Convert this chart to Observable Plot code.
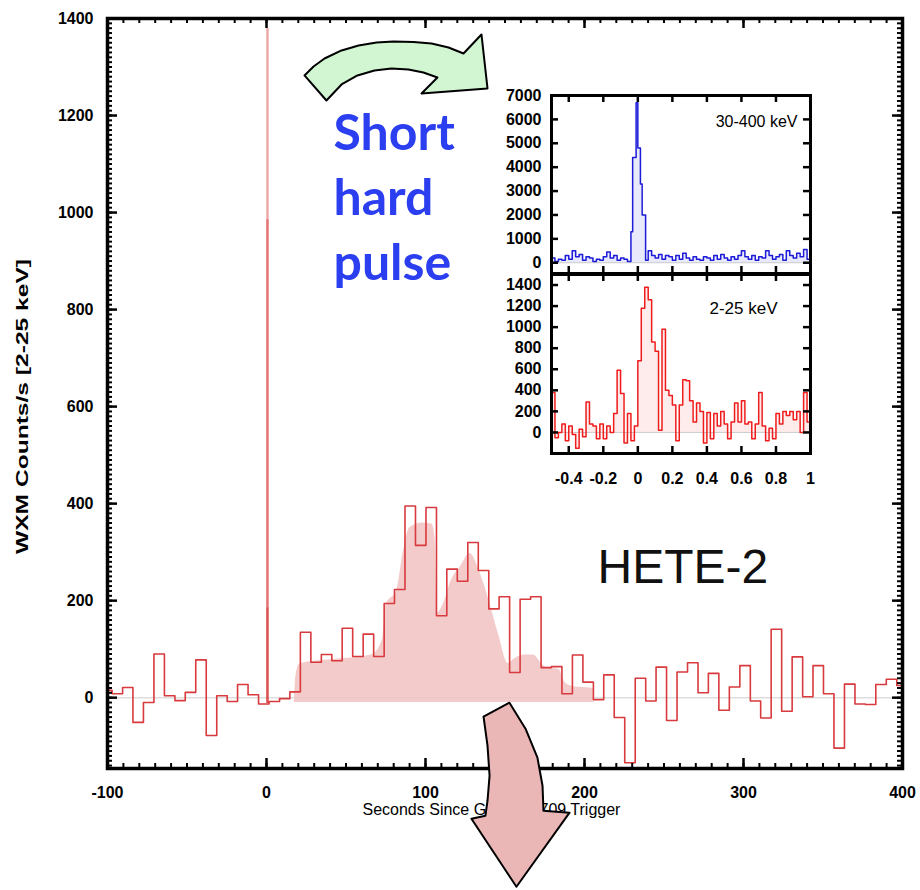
<!DOCTYPE html>
<html>
<head>
<meta charset="utf-8">
<script src="https://cdn.jsdelivr.net/npm/d3@7"></script>
<script src="https://cdn.jsdelivr.net/npm/@observablehq/plot@0.6"></script>
<style>
  body { margin: 0; background: #fff; }
  #wrap { position: relative; width: 920px; height: 890px; overflow: hidden; }
  #wrap svg { position: absolute; }
</style>
</head>
<body>
<div id="wrap"></div>
<script>
// ---------------- main light curve (WXM 2-25 keV), step histogram ----------------
const binStart = [-103.7, -97.1, -90.5, -84.0, -77.4, -70.8, -64.2, -57.6, -51.1, -44.5, -37.9, -31.3, -24.7, -18.2, -11.6, -5.0, 1.6, 8.2, 14.7, 21.3, 27.9, 34.5, 41.1, 47.6, 54.2, 60.8, 67.4, 74.0, 80.5, 87.1, 93.7, 100.3, 106.9, 113.4, 120.0, 126.6, 133.2, 139.8, 146.3, 152.9, 159.5, 166.1, 172.7, 179.2, 185.8, 192.4, 199.0, 205.6, 212.1, 218.7, 225.3, 231.9, 238.5, 245.0, 251.6, 258.2, 264.8, 271.4, 277.9, 284.5, 291.1, 297.7, 304.3, 310.8, 317.4, 324.0, 330.6, 337.2, 343.7, 350.3, 356.9, 363.5, 370.1, 376.6, 383.2, 389.8, 396.4];
const binEnd = 403.0;
const counts = [15, 8, 21, -51, -10, 90, 4, -6, 11, 78, -78, 4, -8, 27, 6, -13, -8, -2, 12, 135, 73, 89, 76, 143, 85, 131, 85, 194, 223, 395, 314, 392, 169, 265, 240, 320, 262, 183, 208, 52, 203, 208, 62, 64, 8, 88, 32, -4, 47, -41, -134, 40, -7, 63, -47, 53, 72, 10, 50, -26, 22, 66, -7, -42, 141, -28, 84, 2, 66, 8, -104, 28, -13, -14, 27, 38, 25];

// short hard spike at trigger (overlaid finer-resolution curves)
const spikeTime = 0.6;
const spikeBase = -12;
const spikeTops = [1380, 985, 185];

// smooth shaded emission envelope
const fillT = [17.5, 18.5, 21, 40, 66, 73, 75, 82, 86, 90, 98, 104, 106, 107.5, 112, 116, 122, 128, 134, 140, 146, 152, 156, 162, 168, 173, 176, 184, 188, 194, 204, 205.5, 206];
const fillV = [-10, 45, 70, 78, 88, 120, 190, 222, 300, 350, 360, 358, 330, 175, 200, 240, 270, 297, 260, 200, 130, 70, 80, 88, 88, 70, 62, 58, 30, 22, 20, 18, -10];
const fillBase = -10;

// axes
const xDomain = [-100, 400], yDomain = [-146, 1400];
const xMajorTicks = [-100, 0, 100, 200, 300, 400];
const yMajorTicks = [0, 200, 400, 600, 800, 1000, 1200, 1400];
const xMinorStep = 10, yMinorStep = 10;
const xLabel = "Seconds Since GRB 050709 Trigger";
const yLabel = "WXM Counts/s [2-25 keV]";

// ---------------- inset: 30-400 keV (blue) ----------------
const blueT = [-0.52,-0.50,-0.48,-0.46,-0.44,-0.42,-0.40,-0.38,-0.36,-0.34,-0.32,-0.30,-0.28,-0.26,-0.24,-0.22,-0.20,-0.18,-0.16,-0.14,-0.12,-0.10,-0.08,-0.06,-0.04,-0.03,-0.01,0.00,0.015,0.025,0.045,0.06,0.08,0.10,0.12,0.14,0.16,0.18,0.20,0.22,0.24,0.26,0.28,0.30,0.32,0.34,0.36,0.38,0.40,0.42,0.44,0.46,0.48,0.50,0.52,0.54,0.56,0.58,0.60,0.62,0.64,0.66,0.68,0.70,0.72,0.74,0.76,0.78,0.80,0.82,0.84,0.86,0.88,0.90,0.92,0.94,0.96,0.98];
const blueV = [100,200,50,150,100,300,150,500,250,350,100,250,200,50,150,100,250,450,200,300,100,200,150,50,1300,4400,6700,4800,3300,2000,100,500,300,200,350,150,300,250,100,300,150,400,200,100,250,150,100,250,200,100,300,150,350,200,100,250,150,300,500,250,150,300,100,250,200,500,300,150,250,350,100,500,300,200,400,250,550,150];
// ---------------- inset: 2-25 keV (red) ----------------
const redT = [-0.52,-0.50,-0.48,-0.46,-0.44,-0.42,-0.40,-0.38,-0.36,-0.34,-0.32,-0.30,-0.28,-0.26,-0.24,-0.22,-0.20,-0.18,-0.16,-0.14,-0.12,-0.10,-0.08,-0.06,-0.04,-0.02,0.00,0.02,0.04,0.06,0.08,0.10,0.12,0.14,0.16,0.18,0.20,0.22,0.24,0.26,0.28,0.30,0.32,0.34,0.36,0.38,0.40,0.42,0.44,0.46,0.48,0.50,0.52,0.54,0.56,0.58,0.60,0.62,0.64,0.66,0.68,0.70,0.72,0.74,0.76,0.78,0.80,0.82,0.84,0.86,0.88,0.90,0.92,0.94,0.96,0.98];
const redV = [100,380,-50,0,80,-80,60,-20,-150,30,-40,290,80,60,-60,80,-60,60,0,180,590,370,-100,180,-80,60,680,1180,1380,1260,860,770,20,980,400,350,260,-80,260,500,490,300,100,280,200,-100,190,-60,180,60,200,80,-60,100,280,100,300,80,100,-60,80,380,60,-80,40,-60,180,80,200,160,200,120,200,0,380,100];
const insetEnd = 1.0;
const insetXDomain = [-0.5, 1], topYDomain = [-450, 7000], botYDomain = [-200, 1500];
const insetXTicks = [-0.4, -0.2, 0, 0.2, 0.4, 0.6, 0.8, 1];
const topYTicks = [0, 1000, 2000, 3000, 4000, 5000, 6000, 7000];
const botYTicks = [0, 200, 400, 600, 800, 1000, 1200, 1400];
const topLabel = "30-400 keV";
const botLabel = "2-25 keV";

// ---------------- annotations ----------------
const noteText = "Short\nhard\npulse";
const missionText = "HETE-2";
// arrow outlines in data units (seconds, counts/s)
const greenArrowT = [23.9, 29.6, 36.5, 47.2, 57.9, 69.2, 79.9, 92.5, 103.8, 114.5, 123.9, 135.2, 139.0, 97.5, 107.5, 98.7, 89.3, 78.6, 67.9, 57.2, 47.2, 37.7, 23.9];
const greenArrowV = [1282.6, 1301.1, 1317.6, 1334.1, 1344.4, 1350.6, 1352.7, 1351.6, 1348.5, 1340.3, 1327.9, 1367.1, 1255.8, 1245.4, 1278.4, 1288.8, 1295.0, 1297.0, 1292.9, 1282.6, 1264.0, 1231.0, 1282.6];
const pinkArrowT = [136.5, 139.0, 140.3, 139.0, 137.7, 128.9, 157.2, 190.6, 174.2, 173.6, 170.4, 162.9, 152.8, 136.5];
const pinkArrowV = [-39.2, -99.0, -160.8, -212.4, -243.3, -249.5, -389.7, -237.1, -233.0, -181.5, -123.7, -63.9, -10.3, -39.2];

// ---------------- build ----------------
const FONT = "'Liberation Sans', Arial, Helvetica, sans-serif";
const str = d => String(d);

const lc = binStart.map((t, i) => ({t, v: counts[i]}));
lc.push({t: binEnd, v: counts[counts.length - 1]});
const fillPts = fillT.map((t, i) => ({t, v: fillV[i]}));
const green = greenArrowT.map((t, i) => ({t, v: greenArrowV[i]}));
const pink = pinkArrowT.map((t, i) => ({t, v: pinkArrowV[i]}));

const xMinor = d3.range(xDomain[0], xDomain[1] + 1e-9, xMinorStep);
const yMinor = d3.range(-140, yDomain[1] + 1e-9, yMinorStep);

// inward tick marks on all four sides, placed with the plot's own scales
function tickMarks(xVals, yVals, xDom, yDom, lenX, lenY, W, H, sw) {
  const ky = (yDom[1] - yDom[0]) / H, kx = (xDom[1] - xDom[0]) / W;
  return [
    Plot.ruleX(xVals, {x: d => d, y1: () => yDom[0], y2: () => yDom[0] + lenX * ky, stroke: "#000", strokeWidth: sw}),
    Plot.ruleX(xVals, {x: d => d, y1: () => yDom[1], y2: () => yDom[1] - lenX * ky, stroke: "#000", strokeWidth: sw}),
    Plot.ruleY(yVals, {y: d => d, x1: () => xDom[0], x2: () => xDom[0] + lenY * kx, stroke: "#000", strokeWidth: sw}),
    Plot.ruleY(yVals, {y: d => d, x1: () => xDom[1], x2: () => xDom[1] - lenY * kx, stroke: "#000", strokeWidth: sw})
  ];
}

const MW = 920 - 107 - 18, MH = 890 - 18 - 122;
const main = Plot.plot({
  width: 920, height: 890,
  marginLeft: 107, marginRight: 18, marginTop: 18, marginBottom: 122,
  x: {domain: xDomain},
  y: {domain: yDomain},
  style: {background: "white", fontFamily: FONT, fontSize: "17px", color: "#000", overflow: "visible"},
  marks: [
    Plot.ruleY([0], {stroke: "#c8c8c8", strokeWidth: 1.5, strokeOpacity: 0.6}),
    Plot.areaY(fillPts, {x: "t", y1: fillBase, y2: "v", curve: "monotone-x", fill: "#f2c2c2", fillOpacity: 0.85}),
    Plot.line(lc, {x: "t", y: "v", curve: "step-after", stroke: "#d83a3e", strokeWidth: 1.6, clip: true}),
    Plot.ruleX(spikeTops, {x: () => spikeTime, y1: () => spikeBase, y2: d => d, stroke: "#d42a2a", strokeOpacity: 0.42, strokeWidth: 2.4}),
    ...tickMarks(xMinor, yMinor, xDomain, yDomain, 5, 5, MW, MH, 2),
    ...tickMarks(xMajorTicks, yMajorTicks, xDomain, yDomain, 10, 10, MW, MH, 2.5),
    Plot.axisX(xMajorTicks, {anchor: "bottom", tickSize: 0, tickPadding: 18, tickFormat: str, label: null, fontSize: 16, fontWeight: "bold"}),
    Plot.axisY(yMajorTicks, {anchor: "left", tickSize: 0, tickPadding: 14, tickFormat: str, label: null, fontSize: 16, fontWeight: "bold"}),
    Plot.frame({stroke: "#000", strokeWidth: 3.5}),
    Plot.text([xLabel], {frameAnchor: "bottom-left", dx: 255, dy: 35, lineAnchor: "top", textAnchor: "start", fontSize: 16, fill: "#000"}),
    Plot.text([yLabel], {frameAnchor: "left", dx: -85, dy: 13, rotate: -90, lineAnchor: "middle", textAnchor: "middle", fontSize: 16, fontWeight: "bold", fill: "#000"}),
    Plot.text([noteText], {frameAnchor: "top-left", dx: 226, dy: 85, lineAnchor: "top", textAnchor: "start", lineHeight: 1.3, fontSize: 50, fontWeight: "bold", fontFamily: "Lato, 'Open Sans', sans-serif", fill: "#2b3ef0"}),
    Plot.text([missionText], {frameAnchor: "top-left", dx: 490, dy: 530, lineAnchor: "top", textAnchor: "start", fontSize: 48, fontFamily: FONT, fill: "#111"}),
    Plot.line(green, {x: "t", y: "v", fill: "#d2f6d2", stroke: "#000", strokeWidth: 2, strokeLinejoin: "round"}),
    Plot.line(pink, {x: "t", y: "v", fill: "#ebb6b6", stroke: "#000", strokeWidth: 2, strokeLinejoin: "round"})
  ]
});

d3.select(main).selectAll("text").filter(function() { return this.textContent === yLabel; })
  .attr("textLength", 295).attr("lengthAdjust", "spacingAndGlyphs");

// inset panels
function stepData(T, V, end) {
  const a = T.map((t, i) => ({t, v: V[i]}));
  a.push({t: end, v: V[V.length - 1]});
  return a;
}
const blue = stepData(blueT, blueV, insetEnd);
const red = stepData(redT, redV, insetEnd);
const IW = 259, IH1 = 178, IH2 = 179;

const topPanel = Plot.plot({
  width: 340, height: 188,
  marginLeft: 71, marginRight: 10, marginTop: 10, marginBottom: 0,
  x: {domain: insetXDomain, axis: null},
  y: {domain: topYDomain},
  style: {background: "transparent", fontFamily: FONT, fontSize: "16px", color: "#000", overflow: "visible"},
  marks: [
    Plot.frame({fill: "white"}),
    Plot.ruleY([0], {stroke: "#ccc", strokeWidth: 1}),
    Plot.areaY(blue, {x: "t", y1: 0, y2: "v", curve: "step-after", fill: "#2a2ae0", fillOpacity: 0.1, clip: true}),
    Plot.line(blue, {x: "t", y: "v", curve: "step-after", stroke: "#1c1cd8", strokeWidth: 1.5, clip: true}),
    ...tickMarks(insetXTicks, topYTicks, insetXDomain, topYDomain, 7, 7, IW, IH1, 2.5),
    Plot.axisY(topYTicks, {anchor: "left", tickSize: 0, tickPadding: 10, tickFormat: str, label: null, fontSize: 16, fontWeight: "bold"}),
    Plot.frame({stroke: "#000", strokeWidth: 3}),
    Plot.text([topLabel], {frameAnchor: "top-right", dx: -13, dy: 20, lineAnchor: "top", textAnchor: "end", fontSize: 16, fill: "#000"})
  ]
});

const botPanel = Plot.plot({
  width: 340, height: 231,
  marginLeft: 71, marginRight: 10, marginTop: 10, marginBottom: 42,
  x: {domain: insetXDomain},
  y: {domain: botYDomain},
  style: {background: "transparent", fontFamily: FONT, fontSize: "16px", color: "#000", overflow: "visible"},
  marks: [
    Plot.frame({fill: "white"}),
    Plot.ruleY([0], {stroke: "#ccc", strokeWidth: 1}),
    Plot.areaY(red, {x: "t", y1: 0, y2: "v", curve: "step-after", fill: "#f03030", fillOpacity: 0.09, clip: true}),
    Plot.line(red, {x: "t", y: "v", curve: "step-after", stroke: "#f01c1c", strokeWidth: 1.5, clip: true}),
    ...tickMarks(insetXTicks, botYTicks, insetXDomain, botYDomain, 7, 7, IW, IH2, 2.5),
    Plot.axisX(insetXTicks, {anchor: "bottom", tickSize: 0, tickPadding: 19, tickFormat: str, label: null, fontSize: 16, fontWeight: "bold"}),
    Plot.axisY(botYTicks, {anchor: "left", tickSize: 0, tickPadding: 10, tickFormat: str, label: null, fontSize: 16, fontWeight: "bold"}),
    Plot.frame({stroke: "#000", strokeWidth: 3}),
    Plot.text([botLabel], {frameAnchor: "top-right", dx: -33, dy: 27, lineAnchor: "top", textAnchor: "end", fontSize: 17, fill: "#000"})
  ]
});

const wrap = document.getElementById("wrap");
function place(svg, left, top) { svg.style.left = left + "px"; svg.style.top = top + "px"; wrap.appendChild(svg); }
place(main, 0, 0);
place(topPanel, 480, 85);
place(botPanel, 480, 264);
</script>
</body>
</html>
